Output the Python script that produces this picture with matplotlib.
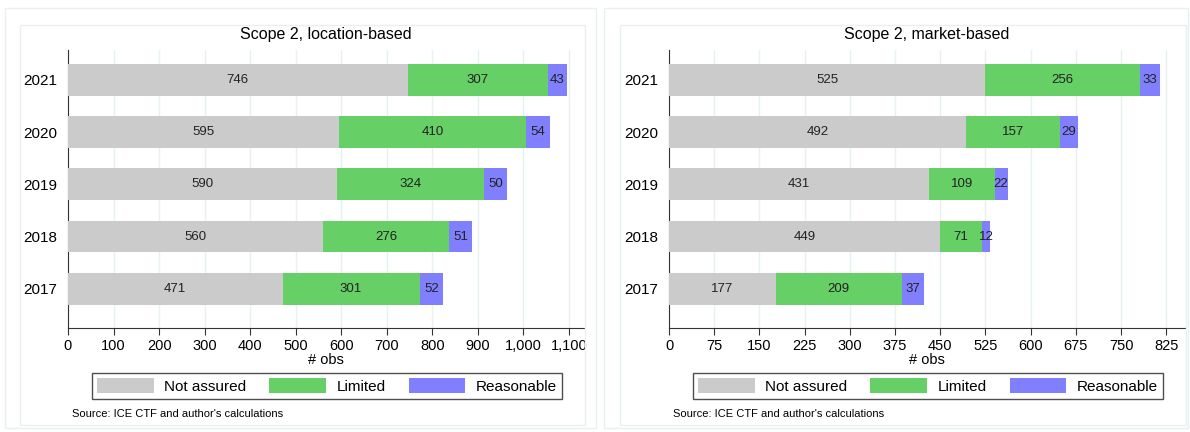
import matplotlib
matplotlib.use("Agg")
import matplotlib.pyplot as plt
from matplotlib.patches import Rectangle, Patch
from matplotlib.ticker import FuncFormatter

plt.rcParams['font.family'] = ['Liberation Sans', 'DejaVu Sans']

# 数据
years = ["2017", "2018", "2019", "2020", "2021"]
categories = ["Not assured", "Limited", "Reasonable"]
colors = ["#cbcbcb", "#66cf66", "#8080ff"]

loc_not_assured = [471, 560, 590, 595, 746]
loc_limited = [301, 276, 324, 410, 307]
loc_reasonable = [52, 51, 50, 54, 43]

mkt_not_assured = [177, 449, 431, 492, 525]
mkt_limited = [209, 71, 109, 157, 256]
mkt_reasonable = [37, 12, 22, 29, 33]

loc_ticks = list(range(0, 1101, 100))
mkt_ticks = list(range(0, 826, 75))

W, H = 1190, 432
fig = plt.figure(figsize=(W / 100, H / 100), dpi=100)


def fx(x):
    return x / W


def fy(y):
    return 1 - y / H


def panel(x0, x1, title, series, ticks, xmax, outer, inner):
    # 面板边框
    for (a, b, c, d) in (outer, inner):
        fig.add_artist(Rectangle((fx(a), fy(d)), fx(c - a), (d - b) / H,
                                 transform=fig.transFigure, fill=False,
                                 edgecolor="#e8f0f2", lw=1))
    ax = fig.add_axes([fx(x0), fy(328), fx(x1 - x0), (328 - 50) / H])
    pos = list(range(len(years)))
    left = [0] * len(years)
    for vals, col in zip(series, colors):
        ax.barh(pos, vals, left=left, height=0.61, color=col, zorder=3)
        for p, l, v in zip(pos, left, vals):
            ax.text(l + v / 2, p, str(v), ha="center", va="center",
                    fontsize=9.5, color="#222222", zorder=4)
        left = [l + v for l, v in zip(left, vals)]
    ax.set_ylim(-0.75, 4.57)
    ax.set_xlim(0, xmax)
    ax.set_yticks(pos)
    ax.set_yticklabels(years, fontsize=11)
    ax.set_xticks(ticks)
    ax.xaxis.set_major_formatter(FuncFormatter(lambda v, p: "{:,}".format(int(v))))
    ax.tick_params(axis="x", labelsize=10.5, length=5, color="#333333", pad=3)
    ax.tick_params(axis="y", length=0, pad=8)
    for t in ticks:
        ax.axvline(t, color="#e8f1f2", lw=1, zorder=1)
    for s in ["top", "right"]:
        ax.spines[s].set_visible(False)
    ax.spines["left"].set_color("#333333")
    ax.spines["bottom"].set_color("#333333")
    ax.set_xlabel("# obs", fontsize=10.5, labelpad=0)
    ax.set_title(title, fontsize=11.5, pad=8)
    handles = [Patch(facecolor=c, edgecolor="none") for c in colors]
    leg = fig.legend(handles, categories, loc="center", ncol=3,
                     bbox_to_anchor=(fx((x0 + x1) / 2 + 1), fy(386)),
                     fontsize=11, frameon=True, fancybox=False,
                     handlelength=3.7, handleheight=1.1, handletextpad=0.7,
                     columnspacing=1.5, borderpad=0.35)
    leg.get_frame().set_edgecolor("#222222")
    leg.get_frame().set_linewidth(1)
    fig.text(fx(x0 + 4), fy(414), "Source: ICE CTF and author's calculations",
             fontsize=8, va="center")
    return ax


panel(68, 584, "Scope 2, location-based",
      [loc_not_assured, loc_limited, loc_reasonable], loc_ticks, 1133,
      (5, 8, 596, 428), (20, 25, 585, 425))
panel(669, 1185, "Scope 2, market-based",
      [mkt_not_assured, mkt_limited, mkt_reasonable], mkt_ticks, 856,
      (604, 8, 1188, 428), (620, 25, 1186, 425))

fig.savefig("out.png", dpi=100, facecolor="white")
